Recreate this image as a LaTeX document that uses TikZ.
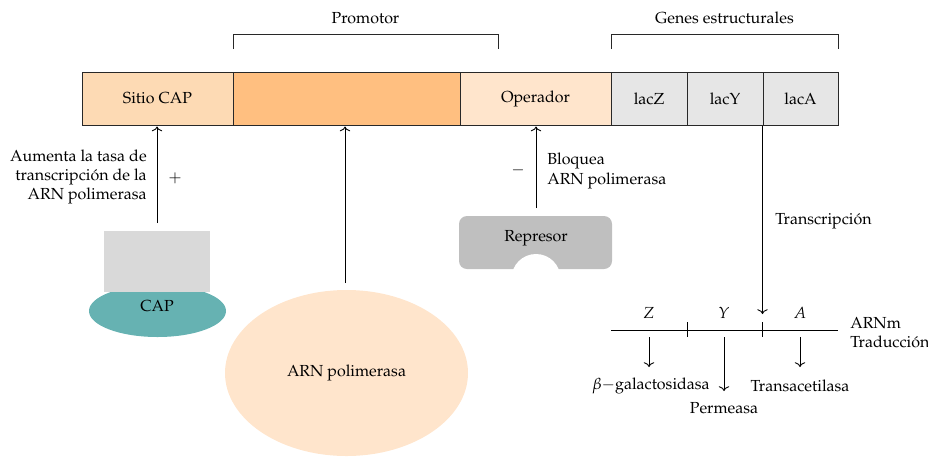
\documentclass[tikz,border=0pt]{standalone}
\usepackage[T1]{fontenc}
\usepackage{mathpazo}
\usetikzlibrary{shapes.geometric,arrows.meta}
\definecolor{sitiocol}{RGB}{253,218,180}
\definecolor{promcol}{RGB}{255,191,128}
\definecolor{opercol}{RGB}{255,229,204}
\definecolor{genecol}{RGB}{230,230,230}
\definecolor{caprect}{RGB}{217,217,217}
\definecolor{capell}{RGB}{102,178,178}
\definecolor{repcol}{RGB}{191,191,191}
\definecolor{linecol}{RGB}{40,40,40}
\tikzset{
  box/.style={draw=linecol, line width=0.6pt, inner sep=0pt, minimum height=53*0.625pt},
  lbl/.style={inner sep=0pt, align=center},
  arr/.style={-{To[length=3pt,width=6.5pt]}, line width=0.55pt},
  brk/.style={draw=linecol, line width=0.55pt},
}
\begin{document}
\begin{tikzpicture}[x=0.625pt, y=-0.625pt]
\useasboundingbox (0,0) rectangle (928,457);
% main bar
\node[box, fill=sitiocol, minimum width=151*0.625pt] (sitio) at (157.5,98.5) {Sitio CAP};
\node[box, fill=promcol, minimum width=227*0.625pt] (prom) at (346.5,98.5) {};
\node[box, fill=opercol, minimum width=151*0.625pt] (oper) at (535.5,98.5) {Operador};
\node[box, fill=genecol, minimum width=76*0.625pt] (lacZ) at (649,98.5) {lacZ};
\node[box, fill=genecol, minimum width=76*0.625pt] (lacY) at (725,98.5) {lacY};
\node[box, fill=genecol, minimum width=75*0.625pt] (lacA) at (800.5,98.5) {lacA};
% brackets
\coordinate (pb1) at (233,49); \coordinate (pb2) at (498,49);
\draw[brk] (pb1) -- ++(0,-15) -| (pb2);
\node[lbl] (promlbl) at (365.5,18) {Promotor};
\coordinate (gb1) at (611,49); \coordinate (gb2) at (838,49);
\draw[brk] (gb1) -- ++(0,-15) -| (gb2);
\node[lbl] (genlbl) at (724.5,18) {Genes estructurales};
% CAP
\node[ellipse, fill=capell, minimum width=137*0.625pt, minimum height=52*0.625pt, inner sep=0pt] (capell) at (157.5,311) {};
\node[fill=caprect, minimum width=106*0.625pt, minimum height=61*0.625pt, inner sep=0pt] (caprect) at (157,261) {};
\node[lbl] (captxt) at (157,306) {CAP};
\coordinate (capfoot) at (157,223);
\draw[arr] (capfoot) -- (157,126.5);
\node[lbl, align=right, anchor=east] (aum) at (147,177) {Aumenta la tasa de\\transcripción de la\\ARN polimerasa};
\node[lbl] (plus) at (175,178) {$+$};
% ARN polimerasa
\node[ellipse, fill=opercol, minimum width=243*0.625pt, minimum height=166*0.625pt, inner sep=0pt] (arnp) at (346.5,373) {ARN polimerasa};
\coordinate (arnfoot) at (345,283);
\draw[arr] (arnfoot) -- (345,126.5);
% Represor
\node[fill=repcol, rounded corners=5pt, minimum width=153*0.625pt, minimum height=53*0.625pt, inner sep=0pt] (rep) at (535.5,242.5) {};
\fill[white] (536,278.5) circle[radius=24.5];
\node[lbl] (reptxt) at (536,238) {Represor};
\coordinate (repfoot) at (536,208);
\draw[arr] (repfoot) -- (536,126.5);
\node[lbl] (minus) at (518,170) {$-$};
\node[lbl, align=left, anchor=west] (bloq) at (547,171) {Bloquea\\ARN polimerasa};
% Transcription
\coordinate (mtip) at (762.5,314);
\draw[arr] (762.5,125.5) -- (mtip);
\node[lbl, anchor=west] (transc) at (775,221) {Transcripción};
% mRNA
\coordinate (m1) at (611,330); \coordinate (m2) at (838,330);
\draw[line width=0.55pt] (m1) -- (m2);
\draw[line width=0.55pt] (687,322) -- (687,337);
\draw[line width=0.55pt] (762.5,322) -- (762.5,337);
\node[lbl] (zl) at (649,313) {$Z$};
\node[lbl] (yl) at (724,313) {$Y$};
\node[lbl] (al) at (800,313) {$A$};
\node[lbl, align=left, anchor=west] (arnm) at (850,333) {ARNm\\Traducción};
% products
\node[lbl] (bgal) at (651,386) {$\beta$$-$galactosidasa};
\node[lbl] (perm) at (724,408) {Permeasa};
\node[lbl] (trans) at (800,386) {Transacetilasa};
\draw[arr] (649,337) -- (649,367);
\draw[arr] (724,337) -- (724,391);
\draw[arr] (800,337) -- (800,367);
\end{tikzpicture}
\end{document}
